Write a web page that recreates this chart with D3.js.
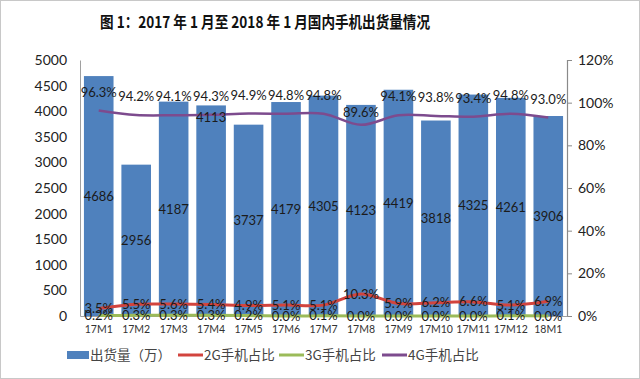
<!DOCTYPE html>
<html><head><meta charset="utf-8">
<script src="https://cdn.jsdelivr.net/npm/d3@7/dist/d3.min.js"></script>
<style>html,body{margin:0;padding:0;background:#fff;}svg{display:block;}</style>
</head><body><svg id="c" width="640" height="379"></svg>
<script>
const title = "图 1：2017 年 1 月至 2018 年 1 月国内手机出货量情况";
const categories = ["17M1","17M2","17M3","17M4","17M5","17M6","17M7","17M8","17M9","17M10","17M11","17M12","18M1"];
const shipments = [4686,2956,4187,4113,3737,4179,4305,4123,4419,3818,4325,4261,3906];
const share2G = [3.5,5.5,5.6,5.4,4.9,5.1,5.1,10.3,5.9,6.2,6.6,5.1,6.9];
const share3G = [0.2,0.3,0.3,0.3,0.2,0.0,0.1,0.0,0.0,0.0,0.0,0.1,0.0];
const share4G = [96.3,94.2,94.1,94.3,94.9,94.8,94.8,89.6,94.1,93.8,93.4,94.8,93.0];
const leftTicks = [0,500,1000,1500,2000,2500,3000,3500,4000,4500,5000];
const rightTicks = [0,20,40,60,80,100,120];
const legendLabels = ["出货量（万）","2G手机占比","3G手机占比","4G手机占比"];

const svg = d3.select("#c");
const W = 640, H = 379;
const m = {l:80, r:567, t:60, b:316};
const font = "Lato, 'Noto Sans', sans-serif";
const cjk = "'Noto Sans CJK SC', sans-serif";
const colBar = "#4F81BD", col2G = "#D2443E", col3G = "#9BBB59", col4G = "#7D4B8E";

svg.append("rect").attr("x",0.5).attr("y",0.5).attr("width",W-1).attr("height",H-1)
  .attr("fill","#fff").attr("stroke","#c8c8c8");

svg.append("text").attr("x",265).attr("y",28).attr("text-anchor","middle")
  .attr("font-family",cjk).attr("font-weight","bold").attr("font-size",16)
  .attr("textLength",330).attr("lengthAdjust","spacingAndGlyphs")
  .attr("fill","#111").text(title);

const x = d3.scaleBand().domain(categories).range([m.l,m.r]).paddingInner(0.21).paddingOuter(0.105);
const yL = d3.scaleLinear().domain([0,5000]).range([m.b,m.t]);
const yR = d3.scaleLinear().domain([0,120]).range([m.b,m.t]);
const cx = c => x(c) + x.bandwidth()/2;

// bars
svg.append("g").selectAll("rect").data(shipments).join("rect")
  .attr("x",(d,i)=>x(categories[i])).attr("width",x.bandwidth())
  .attr("y",d=>yL(d)).attr("height",d=>yL(0)-yL(d)).attr("fill",colBar);

// axes
const axL = svg.append("g").attr("transform",`translate(${m.l},0)`)
  .call(d3.axisLeft(yL).tickValues(leftTicks).tickSize(0).tickPadding(13).tickFormat(d3.format("d")));
axL.select(".domain").attr("stroke","#a0a0a0");
axL.selectAll("text").attr("font-family",font).attr("font-size",14).attr("fill","#222");

const axR = svg.append("g").attr("transform",`translate(${m.r},0)`)
  .call(d3.axisRight(yR).tickValues(rightTicks).tickSize(5).tickPadding(6).tickFormat(d=>d+"%"));
axR.select(".domain").attr("stroke","#8a8a8a").attr("stroke-width",1.2);
axR.selectAll("line").attr("stroke","#8a8a8a");
axR.selectAll("text").attr("font-family",font).attr("font-size",14).attr("fill","#222");

const axB = svg.append("g").attr("transform",`translate(0,${m.b})`)
  .call(d3.axisBottom(x).tickSize(0).tickPadding(10));
axB.select(".domain").attr("stroke","#a0a0a0");
axB.selectAll("text").attr("font-family",font).attr("font-size",10.5).attr("fill","#333");

// lines
const line = d3.line().x((d,i)=>cx(categories[i])).y(d=>yR(d)).curve(d3.curveCatmullRom.alpha(0.5));
svg.append("path").datum(share3G).attr("d",line).attr("fill","none").attr("stroke",col3G).attr("stroke-width",3);
svg.append("path").datum(share2G).attr("d",line).attr("fill","none").attr("stroke",col2G).attr("stroke-width",3);
svg.append("path").datum(share4G).attr("d",line).attr("fill","none").attr("stroke",col4G).attr("stroke-width",2.5);

// bar value labels (centered in bars; 17M4 label sits near top)
svg.append("g").selectAll("text").data(shipments).join("text")
  .attr("x",(d,i)=>cx(categories[i]))
  .attr("y",(d,i)=> i===3 ? 122 : yL(d/2)+5)
  .attr("text-anchor","middle").attr("font-family",font).attr("font-size",13).attr("fill","#1b1b1b")
  .text(d=>d);

// 4G labels above
svg.append("g").selectAll("text").data(share4G).join("text")
  .attr("x",(d,i)=>cx(categories[i])).attr("y",(d,i)=>yR(d)-(d<92?8:14))
  .attr("text-anchor","middle").attr("font-family",font).attr("font-size",13).attr("fill","#1b1b1b")
  .text(d=>d.toFixed(1)+"%");
// 2G labels centered
svg.append("g").selectAll("text").data(share2G).join("text")
  .attr("x",(d,i)=>cx(categories[i])).attr("y",(d,i)=>yR(d)+4.5)
  .attr("text-anchor","middle").attr("font-family",font).attr("font-size",13).attr("fill","#1b1b1b")
  .text(d=>d.toFixed(1)+"%");
// 3G labels centered
svg.append("g").selectAll("text").data(share3G).join("text")
  .attr("x",(d,i)=>cx(categories[i])).attr("y",(d,i)=>yR(d)+4.5)
  .attr("text-anchor","middle").attr("font-family",font).attr("font-size",13).attr("fill","#1b1b1b")
  .text(d=>d.toFixed(1)+"%");

// legend
const lg = svg.append("g").attr("font-family",cjk).attr("font-size",13.5).attr("fill","#444");
const ly = 355;
lg.append("rect").attr("x",67).attr("y",ly-4).attr("width",22).attr("height",8).attr("fill",colBar);
lg.append("text").attr("x",90).attr("y",ly+5).text(legendLabels[0]);
const items = [[178,col2G,legendLabels[1]],[279,col3G,legendLabels[2]],[382,col4G,legendLabels[3]]];
items.forEach(([lx,c,t])=>{
  lg.append("line").attr("x1",lx).attr("x2",lx+25).attr("y1",ly).attr("y2",ly).attr("stroke",c).attr("stroke-width",3);
  lg.append("text").attr("x",lx+26).attr("y",ly+5).text(t);
});
</script></body></html>
